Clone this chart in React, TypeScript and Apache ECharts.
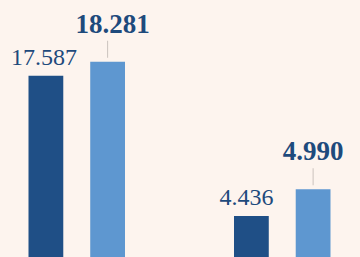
import React, { useEffect, useRef } from "react";
import * as echarts from "echarts";

const groupA: number[] = [17587, 18281];
const groupB: number[] = [4436, 4990];
const seriesNames: string[] = ["Anterior", "Actual"];

const BG = "#fdf4ee";
const DARK = "#1f4f86";
const LIGHT = "#5e97d0";
const TEXT = "#1e4a7c";
const LEADER = "#cbc3be";
const FONT = "Liberation Serif";

const fmt = (v: number) => String(v).replace(/\B(?=(\d{3})+(?!\d))/g, ".");

export default function App() {
  const ref = useRef<HTMLDivElement>(null);
  useEffect(() => {
    if (!ref.current) return;
    const chart = echarts.init(ref.current, null, { renderer: "svg" });
    const groups = [groupA, groupB];
    const regOffsets = [[-2, 0], [-5, 0]];
    const series: any[] = [];
    groups.forEach((g, gi) => {
      series.push({
        type: "bar",
        name: seriesNames[0],
        xAxisIndex: gi,
        yAxisIndex: gi,
        data: [g[0]],
        barWidth: 35,
        barGap: "77%",
        itemStyle: { color: DARK },
        label: {
          show: true,
          position: "top",
          distance: 7,
          offset: regOffsets[gi],
          formatter: (p: any) => fmt(p.value),
          fontFamily: FONT,
          fontSize: 24,
          color: TEXT,
        },
      });
      series.push({
        type: "bar",
        name: seriesNames[1],
        xAxisIndex: gi,
        yAxisIndex: gi,
        data: [g[1]],
        barWidth: 35,
        barGap: "77%",
        itemStyle: { color: LIGHT },
        label: {
          show: true,
          position: "top",
          distance: 4,
          formatter: (p: any) => "{v|" + fmt(p.value) + "}\n{l| }",
          fontFamily: FONT,
          color: TEXT,
          rich: {
            v: {
              fontFamily: FONT,
              fontSize: 27,
              fontWeight: "bold",
              color: TEXT,
              lineHeight: 30,
              padding: gi === 0 ? [0, 0, 4, 10] : [0, 0, 4, 0],
            },
            l: {
              width: 1,
              height: 17,
              lineHeight: 17,
              backgroundColor: LEADER,
              fontSize: 1,
            },
          },
        },
      });
    });
    chart.setOption({
      animation: false,
      backgroundColor: BG,
      grid: [
        { left: 28.5, width: 96.5, top: 61.7, height: 368.6, outerBoundsMode: "none", containLabel: false },
        { left: 234, width: 96.5, top: 189.3, height: 240.7, outerBoundsMode: "none", containLabel: false },
      ],
      xAxis: [0, 1].map((i) => ({
        type: "category",
        gridIndex: i,
        data: [""],
        show: false,
      })),
      yAxis: [0, 1].map((i) => ({
        type: "value",
        gridIndex: i,
        min: 0,
        max: "dataMax",
        show: false,
      })),
      series,
    });
    return () => chart.dispose();
  }, []);
  return (
    <div
      ref={ref}
      style={{ position: "fixed", left: 0, top: 0, width: 360, height: 257 }}
    />
  );
}
